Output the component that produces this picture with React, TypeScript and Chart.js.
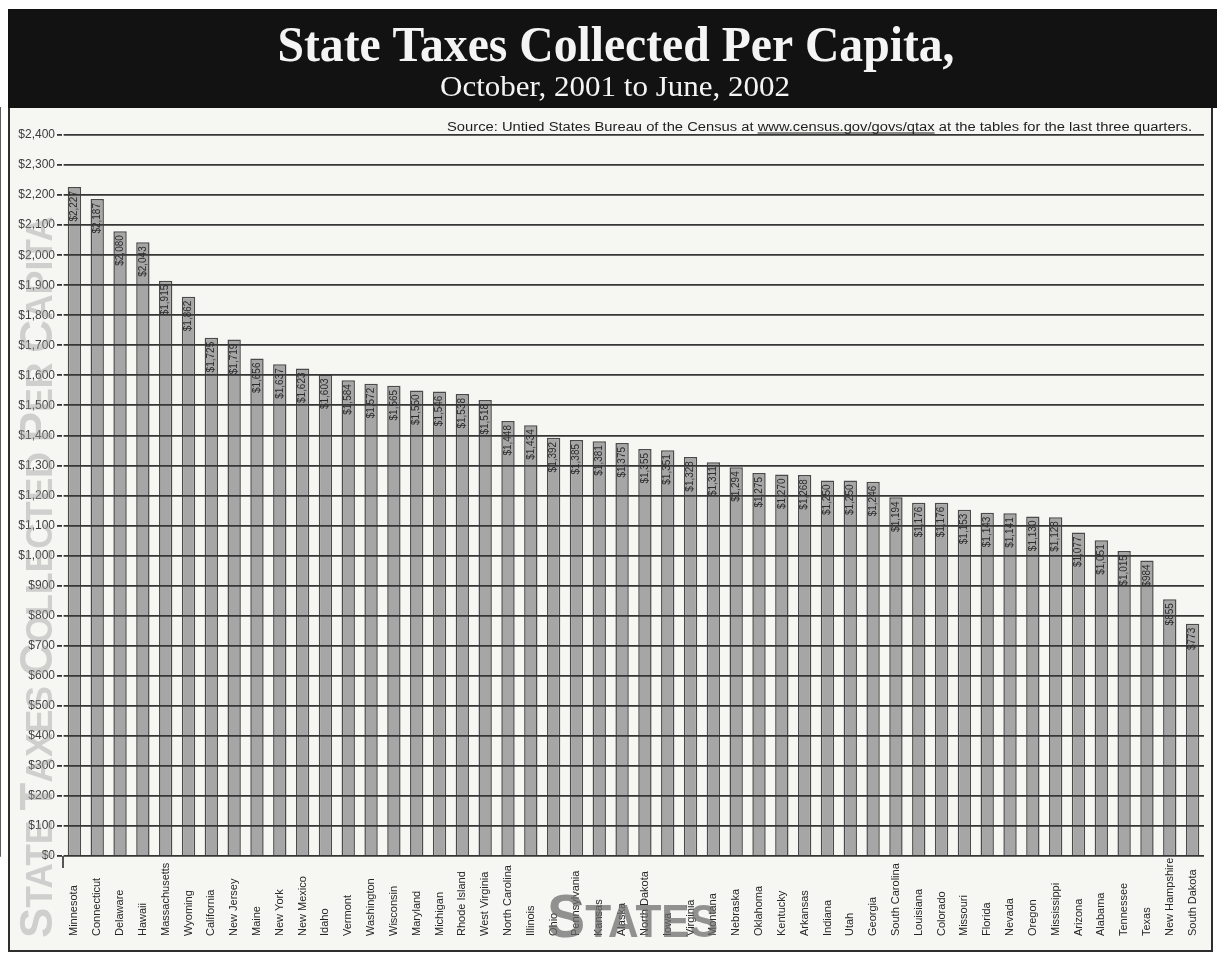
import React, { useEffect, useRef } from "react";
import { Chart, registerables } from "chart.js";

Chart.register(...registerables);

const states = [
  "Minnesota", "Connecticut", "Delaware", "Hawaii", "Massachusetts", "Wyoming",
  "California", "New Jersey", "Maine", "New York", "New Mexico", "Idaho",
  "Vermont", "Washington", "Wisconsin", "Maryland", "Michigan", "Rhode Island",
  "West Virginia", "North Carolina", "Illinois", "Ohio", "Pennsylvania", "Kansas",
  "Alaska", "North Dakota", "Iowa", "Virginia", "Montana", "Nebraska",
  "Oklahoma", "Kentucky", "Arkansas", "Indiana", "Utah", "Georgia",
  "South Carolina", "Louisiana", "Colorado", "Missouri", "Florida", "Nevada",
  "Oregon", "Mississippi", "Arizona", "Alabama", "Tennessee", "Texas",
  "New Hampshire", "South Dakota",
];

const taxesPerCapita = [
  2227, 2187, 2080, 2043, 1915, 1862,
  1725, 1719, 1656, 1637, 1623, 1603,
  1584, 1572, 1565, 1550, 1546, 1538,
  1518, 1448, 1434, 1392, 1385, 1381,
  1375, 1355, 1351, 1328, 1311, 1294,
  1275, 1270, 1268, 1250, 1250, 1246,
  1194, 1176, 1176, 1153, 1143, 1141,
  1130, 1128, 1077, 1051, 1015, 984,
  855, 773,
];

const yTickValues = [
  0, 100, 200, 300, 400, 500, 600, 700, 800, 900, 1000, 1100, 1200,
  1300, 1400, 1500, 1600, 1700, 1800, 1900, 2000, 2100, 2200, 2300, 2400,
];

const titleText = "State Taxes Collected Per Capita,";
const subtitleText = "October, 2001 to June, 2002";
const sourcePrefix = "Source: Untied States Bureau of the Census at ";
const sourceUrl = "www.census.gov/govs/qtax";
const sourceSuffix = " at the tables for the last three quarters.";
const yTitleText = "STATE TAXES COLLECTED PER CAPITA";
const xTitleText = "STATES";

const SANS = '"Liberation Sans", Arial, sans-serif';
const SERIF = '"Liberation Serif", "Times New Roman", serif';

function money(v: number): string {
  return "$" + String(v).replace(/\B(?=(\d{3})+(?!\d))/g, ",");
}

const overlayPlugin = {
  id: "overlay",
  beforeDraw(chart: any) {
    const ctx = chart.ctx;
    ctx.save();
    ctx.fillStyle = "#ffffff";
    ctx.fillRect(0, 0, chart.width, chart.height);
    ctx.fillStyle = "#f6f6f3";
    ctx.fillRect(9, 108, 1204, 843);
    ctx.restore();
  },
  afterDraw(chart: any) {
    const ctx = chart.ctx;
    const xScale = chart.scales.x;
    const area = chart.chartArea;

    // header band
    ctx.save();
    ctx.fillStyle = "#121212";
    ctx.fillRect(8, 9, 1209, 99);

    ctx.fillStyle = "#f4f4f4";
    ctx.font = "bold 50px " + SERIF;
    let w = ctx.measureText(titleText).width;
    ctx.save();
    ctx.translate(616, 61);
    ctx.scale(677 / w, 1);
    ctx.textAlign = "center";
    ctx.textBaseline = "alphabetic";
    ctx.fillText(titleText, 0, 0);
    ctx.restore();

    ctx.font = "30px " + SERIF;
    w = ctx.measureText(subtitleText).width;
    ctx.save();
    ctx.translate(615, 96);
    ctx.scale(350 / w, 1);
    ctx.textAlign = "center";
    ctx.fillText(subtitleText, 0, 0);
    ctx.restore();
    ctx.restore();

    // frame lines
    ctx.save();
    ctx.strokeStyle = "#2e2e2e";
    ctx.lineWidth = 2;
    ctx.beginPath();
    ctx.moveTo(9, 108);
    ctx.lineTo(9, 951);
    ctx.lineTo(1212, 951);
    ctx.lineTo(1212, 108);
    ctx.stroke();
    ctx.lineWidth = 1.6;
    ctx.beginPath();
    ctx.moveTo(area.left, area.bottom);
    ctx.lineTo(area.left, area.bottom + 12);
    ctx.stroke();
    ctx.restore();

    // source note
    ctx.save();
    ctx.fillStyle = "#1e1e1e";
    ctx.font = "12px " + SANS;
    const full = sourcePrefix + sourceUrl + sourceSuffix;
    const fw = ctx.measureText(full).width;
    const sx = 745 / fw;
    ctx.translate(1192 - 745, 131);
    ctx.scale(sx, 1);
    ctx.textBaseline = "alphabetic";
    ctx.textAlign = "left";
    ctx.fillText(full, 0, 0);
    const pw = ctx.measureText(sourcePrefix).width;
    const uw = ctx.measureText(sourceUrl).width;
    ctx.strokeStyle = "#1e1e1e";
    ctx.lineWidth = 1;
    ctx.beginPath();
    ctx.moveTo(pw, 2);
    ctx.lineTo(pw + uw, 2);
    ctx.stroke();
    ctx.restore();

    // value labels inside bars
    const meta = chart.getDatasetMeta(0);
    ctx.save();
    ctx.fillStyle = "#2c2c2c";
    ctx.font = "10px " + SANS;
    meta.data.forEach((bar: any, i: number) => {
      ctx.save();
      ctx.translate(bar.x, bar.y + 4);
      ctx.rotate(-Math.PI / 2);
      ctx.textAlign = "right";
      ctx.textBaseline = "middle";
      ctx.fillText(money(taxesPerCapita[i]), 0, 0);
      ctx.restore();
    });
    ctx.restore();

    // category labels (bottom aligned, rotated)
    ctx.save();
    ctx.fillStyle = "#262626";
    ctx.font = "11px " + SANS;
    states.forEach((s, i) => {
      const x = xScale.getPixelForValue(i);
      ctx.save();
      ctx.translate(x, 936);
      ctx.rotate(-Math.PI / 2);
      ctx.textAlign = "left";
      ctx.textBaseline = "middle";
      ctx.fillText(s, 0, 0);
      ctx.restore();
    });
    ctx.restore();

    // "STATES" watermark
    ctx.save();
    ctx.fillStyle = "rgba(105,105,105,0.72)";
    const bigF = "bold 62px " + SANS;
    const smallF = "bold 46px " + SANS;
    ctx.font = bigF;
    const w1 = ctx.measureText(xTitleText[0]).width;
    ctx.font = smallF;
    const w2 = ctx.measureText(xTitleText.slice(1)).width;
    ctx.translate(547, 937);
    ctx.scale(171 / (w1 + w2), 1);
    ctx.textBaseline = "alphabetic";
    ctx.textAlign = "left";
    ctx.font = bigF;
    ctx.fillText(xTitleText[0], 0, 0);
    ctx.font = smallF;
    ctx.fillText(xTitleText.slice(1), w1, 0);
    ctx.restore();

    // vertical axis title watermark (small caps style)
    ctx.save();
    ctx.fillStyle = "rgba(160,160,160,0.45)";
    const big = "bold 46px " + SANS;
    const small = "bold 36px " + SANS;
    const segs: { t: string; f: string }[] = [];
    yTitleText.split(" ").forEach((word, wi, arr) => {
      segs.push({ t: word[0], f: big });
      segs.push({ t: word.slice(1) + (wi < arr.length - 1 ? " " : ""), f: small });
    });
    let total = 0;
    const widths = segs.map((s) => {
      ctx.font = s.f;
      const ww = ctx.measureText(s.t).width;
      total += ww;
      return ww;
    });
    ctx.translate(52, 938);
    ctx.rotate(-Math.PI / 2);
    ctx.scale(722 / total, 1);
    ctx.textBaseline = "alphabetic";
    ctx.textAlign = "left";
    let off = 0;
    segs.forEach((s, i) => {
      ctx.font = s.f;
      ctx.fillText(s.t, off, 0);
      off += widths[i];
    });
    ctx.restore();
  },
};

export default function App() {
  const canvasRef = useRef<HTMLCanvasElement | null>(null);

  useEffect(() => {
    const canvas = canvasRef.current;
    if (!canvas) return;
    const chart = new Chart(canvas, {
      type: "bar",
      data: {
        labels: states,
        datasets: [
          {
            label: "State taxes per capita",
            data: taxesPerCapita,
            backgroundColor: "#a6a6a6",
            borderColor: "#4a4a4a",
            borderWidth: 1.5,
            barPercentage: 0.585,
            categoryPercentage: 1.0,
          },
        ],
      },
      options: {
        responsive: false,
        animation: false,
        devicePixelRatio: 1,
        layout: { padding: { left: 8, top: 108, right: 13, bottom: 105 } },
        plugins: {
          legend: { display: false },
          title: { display: false },
          tooltip: { enabled: false },
        },
        scales: {
          x: {
            type: "category",
            display: false,
            offset: true,
          },
          y: {
            min: 0,
            max: 2490,
            afterBuildTicks: (scale: any) => {
              scale.ticks = yTickValues.map((v) => ({ value: v }));
            },
            afterFit: (scale: any) => {
              scale.width = 55;
            },
            grid: {
              color: "#363636",
              lineWidth: 1.8,
              z: 1,
              drawTicks: true,
              tickLength: 6,
            },
            border: { display: true, color: "#333333", width: 1.6 },
            ticks: {
              padding: 2,
              color: "#3c3c3c",
              font: { family: "Liberation Sans", size: 12 },
              callback: (v: any) => money(Number(v)),
            },
          },
        },
      },
      plugins: [overlayPlugin],
    });
    return () => chart.destroy();
  }, []);

  return (
    <div style={{ position: "absolute", left: 0, top: 0, width: 1217, height: 961 }}>
      <canvas ref={canvasRef} width={1217} height={961} style={{ width: 1217, height: 961, display: "block" }} />
    </div>
  );
}
